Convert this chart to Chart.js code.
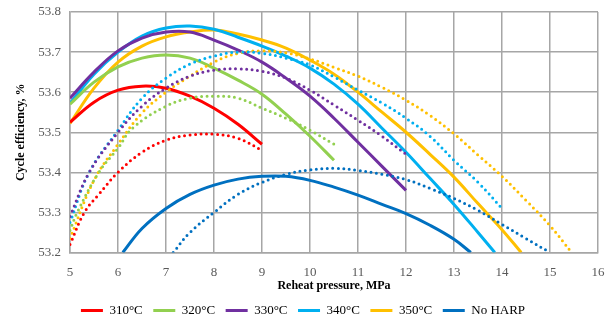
<!DOCTYPE html>
<html>
<head>
<meta charset="utf-8">
<script src="https://cdn.jsdelivr.net/npm/chart.js@4"></script>
<style>
  html, body { margin: 0; padding: 0; background: #fff; }
  #wrap { width: 614px; height: 327px; }
</style>
</head>
<body>
<div id="wrap"><canvas id="chart"></canvas></div>
<script>
// reheat pressure (MPa) and cycle efficiency (%) per curve
const p310 = [5, 5.5, 6, 6.5, 7, 7.5, 8, 8.5, 9];
const eff310 = [53.525, 53.575, 53.605, 53.615, 53.61, 53.59, 53.56, 53.52, 53.47];
const p310d = [5, 5.3, 5.6, 6, 6.5, 7, 7.5, 8, 8.5, 9];
const eff310d = [53.22, 53.3, 53.345, 53.4, 53.45, 53.48, 53.493, 53.495, 53.485, 53.455];

const p320 = [5, 5.5, 6, 6.5, 7, 7.5, 8, 8.5, 9, 9.5, 10, 10.5];
const eff320 = [53.57, 53.625, 53.663, 53.685, 53.693, 53.685, 53.66, 53.63, 53.595, 53.545, 53.49, 53.43];
const p320d = [5, 5.15, 5.6, 6, 6.3, 7, 7.5, 8, 8.5, 9, 9.5, 10, 10.5];
const eff320d = [53.255, 53.3, 53.4, 53.46, 53.51, 53.565, 53.585, 53.59, 53.585, 53.56, 53.535, 53.505, 53.47];

const p330 = [5, 5.5, 6, 6.5, 7, 7.5, 8, 8.5, 9, 9.5, 10, 10.5, 11, 11.5, 12];
const eff330 = [53.585, 53.65, 53.703, 53.735, 53.75, 53.75, 53.73, 53.705, 53.675, 53.635, 53.59, 53.535, 53.475, 53.415, 53.355];
const p330d = [5, 5.4, 6, 6.5, 7, 7.5, 8, 8.5, 9, 9.5, 10, 10.5, 11, 11.5, 12];
const eff330d = [53.29, 53.4, 53.5, 53.565, 53.61, 53.64, 53.655, 53.658, 53.652, 53.635, 53.605, 53.568, 53.53, 53.49, 53.445];

const p340 = [5, 5.5, 6, 6.5, 7, 7.5, 8, 8.5, 9, 9.5, 10, 10.5, 11, 11.5, 12, 12.5, 13, 13.5, 13.85];
const eff340 = [53.572, 53.645, 53.7, 53.74, 53.76, 53.765, 53.757, 53.737, 53.715, 53.69, 53.66, 53.62, 53.57, 53.51, 53.45, 53.385, 53.32, 53.25, 53.2];
const p340d = [5, 5.4, 6, 6.5, 7, 7.5, 8, 8.5, 9, 9.5, 10, 10.5, 11, 11.5, 12, 12.5, 13, 13.5, 14];
const eff340d = [53.275, 53.4, 53.505, 53.585, 53.635, 53.67, 53.69, 53.7, 53.697, 53.685, 53.668, 53.638, 53.605, 53.573, 53.535, 53.49, 53.43, 53.375, 53.31];

const p350 = [5, 5.5, 6, 6.5, 7, 7.5, 8, 8.5, 9, 9.5, 10, 10.5, 11, 11.5, 12, 12.5, 13, 13.5, 14, 14.4];
const eff350 = [53.522, 53.61, 53.675, 53.715, 53.738, 53.75, 53.755, 53.745, 53.73, 53.71, 53.68, 53.645, 53.6, 53.55, 53.5, 53.445, 53.388, 53.322, 53.257, 53.2];
const p350d = [5, 5.5, 6, 6.5, 7, 7.5, 8, 8.5, 9, 9.5, 10, 10.5, 11, 11.5, 12, 12.5, 13, 13.5, 14, 14.5, 15, 15.45];
const eff350d = [53.235, 53.38, 53.47, 53.548, 53.6, 53.64, 53.675, 53.697, 53.703, 53.698, 53.683, 53.662, 53.64, 53.612, 53.58, 53.542, 53.496, 53.443, 53.39, 53.33, 53.267, 53.2];

const pNo = [6.1, 6.5, 7, 7.5, 8, 8.5, 9, 9.5, 10, 10.5, 11, 11.5, 12, 12.5, 13, 13.35];
const effNo = [53.2, 53.26, 53.31, 53.345, 53.368, 53.383, 53.39, 53.39, 53.38, 53.363, 53.343, 53.32, 53.297, 53.268, 53.233, 53.2];
const pNod = [7.15, 7.5, 8, 8.5, 9, 9.5, 10, 10.5, 11, 11.5, 12, 12.5, 13, 13.5, 14, 14.5, 15];
const effNod = [53.2, 53.25, 53.3, 53.345, 53.375, 53.395, 53.406, 53.41, 53.405, 53.395, 53.382, 53.36, 53.335, 53.305, 53.27, 53.235, 53.2];

const seriesNames = ['310°C', '320°C', '330°C', '340°C', '350°C', 'No HARP'];
const seriesColors = ['#ff0000', '#92d050', '#7030a0', '#00b0f0', '#ffc000', '#0070c0'];

const solid = [[p310, eff310], [p320, eff320], [p330, eff330], [p340, eff340], [p350, eff350], [pNo, effNo]];
const dotted = [[p310d, eff310d], [p320d, eff320d], [p330d, eff330d], [p340d, eff340d], [p350d, eff350d], [pNod, effNod]];

const toPoints = (xs, ys) => xs.map((x, i) => ({ x: x, y: ys[i] }));

const datasets = [];
dotted.forEach(([xs, ys], i) => {
  datasets.push({
    label: seriesNames[i] + ' dotted',
    data: toPoints(xs, ys),
    borderColor: seriesColors[i],
    borderWidth: 3,
    borderDash: [0, 5.5],
    borderCapStyle: 'round',
    pointRadius: 0,
    showLine: true,
    tension: 0.4,
    fill: false
  });
});
solid.forEach(([xs, ys], i) => {
  datasets.push({
    label: seriesNames[i],
    data: toPoints(xs, ys),
    borderColor: seriesColors[i],
    borderWidth: 3,
    pointRadius: 0,
    showLine: true,
    tension: 0.4,
    fill: false
  });
});

const serif = "'Liberation Serif', 'Times New Roman', serif";
const gridColor = '#a6a6a6';

new Chart(document.getElementById('chart'), {
  type: 'scatter',
  data: { datasets: datasets },
  options: {
    responsive: true,
    maintainAspectRatio: false,
    animation: false,
    layout: { padding: { left: 8, right: 16, top: 12, bottom: 0 } },
    plugins: {
      tooltip: { enabled: false },
      legend: {
        position: 'bottom',
        labels: {
          font: { family: serif, size: 13 },
          color: '#222',
          boxWidth: 22,
          boxHeight: 3,
          padding: 10.5,
          generateLabels: (chart) => seriesNames.map((name, i) => ({
            text: name,
            fillStyle: seriesColors[i],
            strokeStyle: seriesColors[i],
            lineWidth: 0,
            datasetIndex: 6 + i
          }))
        }
      }
    },
    scales: {
      x: {
        type: 'linear',
        min: 5,
        max: 16,
        ticks: { stepSize: 1, padding: 4, color: '#595959', font: { family: serif, size: 13 } },
        // invisible tick marks keep the labels off the plot without widening the padding
        grid: { color: gridColor, lineWidth: 1.5, drawTicks: true, tickLength: 8, tickColor: 'rgba(0,0,0,0)' },
        border: { color: gridColor, width: 1.5 },
        title: { display: true, text: 'Reheat pressure, MPa', color: '#000', font: { family: serif, size: 12, weight: 'bold' }, padding: { top: 2, bottom: 0 } },
        afterFit: (scale) => { scale.height = 41; }
      },
      y: {
        min: 53.2,
        max: 53.8,
        ticks: {
          stepSize: 0.1,
          padding: 4,
          color: '#595959',
          font: { family: serif, size: 13 },
          callback: (v) => v.toFixed(1)
        },
        grid: { color: gridColor, lineWidth: 1.5, drawTicks: true, tickLength: 5, tickColor: 'rgba(0,0,0,0)' },
        border: { color: gridColor, width: 1.5 },
        title: { display: true, text: 'Cycle efficiency, %', color: '#000', font: { family: serif, size: 12, weight: 'bold' }, padding: { top: 6, bottom: 0 } },
        afterFit: (scale) => { scale.width = 62; }
      }
    }
  }
});
</script>
</body>
</html>
